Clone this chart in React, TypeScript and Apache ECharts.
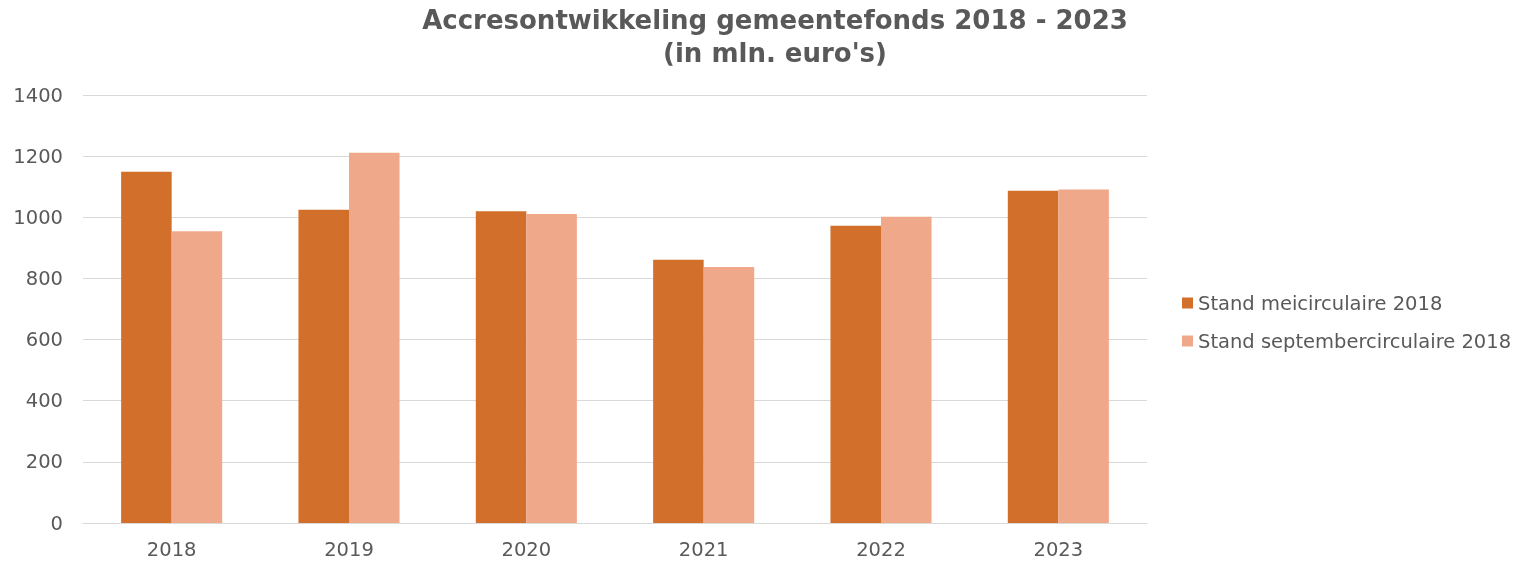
import React, { useEffect, useRef } from "react";
import * as echarts from "echarts";

const categories = ["2018", "2019", "2020", "2021", "2022", "2023"];
const meiValues = [1149, 1025, 1020, 861, 972, 1087];
const septValues = [954, 1211, 1011, 837, 1002, 1091];
const seriesNames = ["Stand meicirculaire 2018", "Stand septembercirculaire 2018"];

export default function App() {
  const ref = useRef<HTMLDivElement>(null);
  useEffect(() => {
    if (!ref.current) return;
    const chart = echarts.init(ref.current, null, { renderer: "svg" });
    const font = "Verdana, 'DejaVu Sans', sans-serif";
    chart.setOption({
      animation: false,
      textStyle: { fontFamily: font },
      title: {
        text: "Accresontwikkeling gemeentefonds 2018 - 2023\n(in mln. euro's)",
        left: 770,
        textAlign: "center",
        top: -2,
        textStyle: {
          fontFamily: font,
          fontSize: 26,
          fontWeight: "bold",
          color: "#595959",
          lineHeight: 33,
        },
      },
      legend: {
        orient: "vertical",
        left: 1177,
        top: 288,
        itemWidth: 11,
        itemHeight: 11,
        itemGap: 18,
        icon: "rect",
        textStyle: { fontFamily: font, fontSize: 19.5, color: "#595959" },
        data: seriesNames,
      },
      grid: { left: 83, right: 377, top: 95, bottom: 40 },
      xAxis: {
        type: "category",
        data: categories,
        axisLine: { lineStyle: { color: "#d9d9d9", width: 1 } },
        axisTick: { show: false },
        axisLabel: { fontFamily: font, fontSize: 19.5, color: "#595959", margin: 16 },
      },
      yAxis: {
        type: "value",
        min: 0,
        max: 1400,
        interval: 200,
        axisLine: { show: false },
        axisTick: { show: false },
        splitLine: { lineStyle: { color: "#d9d9d9", width: 1 } },
        axisLabel: {
          fontFamily: font,
          fontSize: 19.5,
          color: "#595959",
          margin: 20,
          formatter: (v: number) => String(v),
        },
      },
      series: [
        {
          name: seriesNames[0],
          type: "bar",
          data: meiValues,
          barGap: "0%",
          barCategoryGap: "43%",
          itemStyle: { color: "#D26F2A" },
        },
        {
          name: seriesNames[1],
          type: "bar",
          data: septValues,
          barGap: "0%",
          barCategoryGap: "43%",
          itemStyle: { color: "#F0A88A" },
        },
      ],
    });
    return () => chart.dispose();
  }, []);
  return (
    <div
      ref={ref}
      style={{ position: "fixed", left: 0, top: 0, width: 1524, height: 563 }}
    />
  );
}
